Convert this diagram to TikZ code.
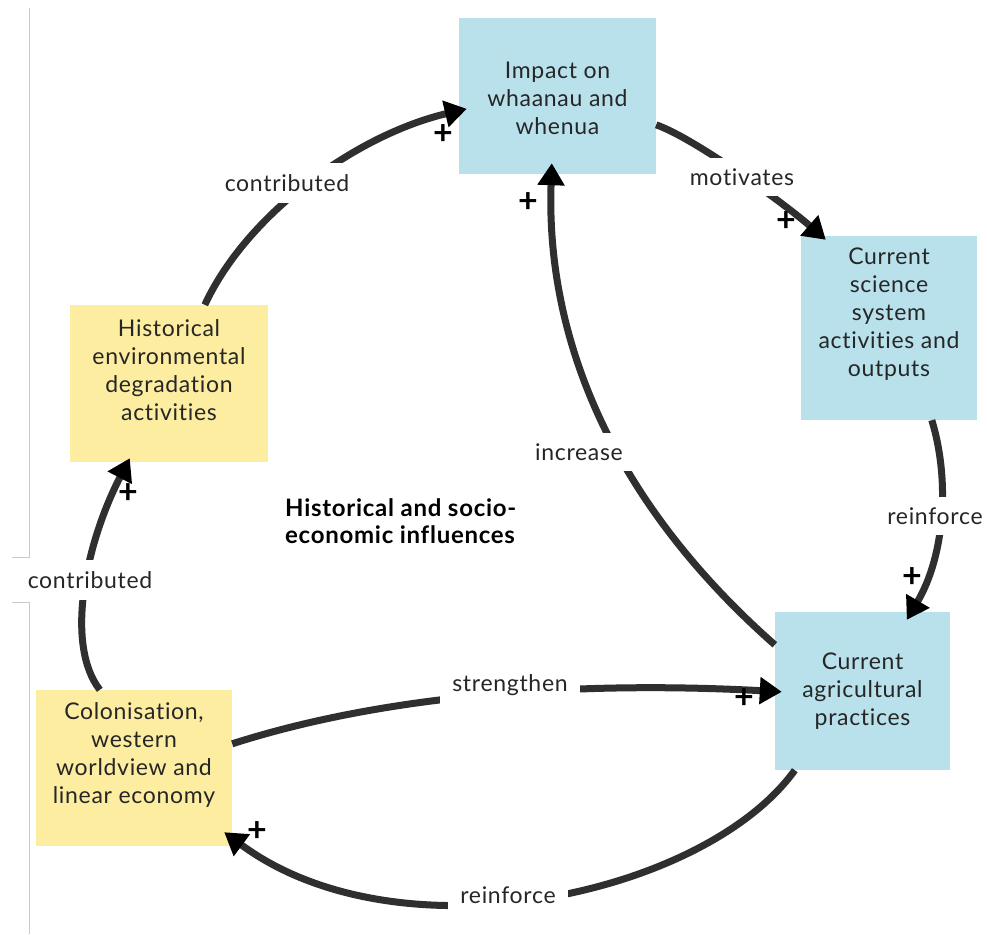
\documentclass[tikz,border=0pt]{standalone}
\usepackage{fontspec}
\setmainfont{Lato}[LetterSpace=3, Ligatures=NoCommon]
\usetikzlibrary{arrows.meta}
\definecolor{boxblue}{HTML}{B9E1EC}
\definecolor{boxyellow}{HTML}{FDEDA1}
\definecolor{linkgray}{HTML}{2F2F2F}
\definecolor{txtgray}{HTML}{262626}
\definecolor{framegray}{HTML}{C9C9C9}
\begin{document}
\begin{tikzpicture}[x=1pt,y=-1pt,
  box/.style={rectangle, inner sep=0pt, draw=none},
  bluebox/.style={box, fill=boxblue},
  yellowbox/.style={box, fill=boxyellow},
  boxtext/.style={align=center, font=\fontsize{23}{28}\selectfont, text=txtgray, inner sep=0pt},
  link/.style={draw=linkgray, line width=7pt, -{Triangle[length=22pt,width=26pt,color=black]}},
  linklabel/.style={fill=white, inner xsep=12pt, inner ysep=11pt, font=\fontsize{23}{28}\selectfont, text=txtgray},
  plus/.style={font=\fontsize{34}{34}\selectfont\bfseries, text=black, inner sep=0pt},
  frame/.style={draw=framegray, line width=1pt},
  title/.style={align=left, anchor=west, font=\fontsize{24}{27}\selectfont\bfseries, text=black, inner sep=0pt},
]
\useasboundingbox[fill=white] (0,0) rectangle (987,934);

% thin frame rules along the left margin
\draw[frame] (29,8) -- (29,557) -- (12,557);
\draw[frame] (12,602) -- (29,602) -- (29,934);

% boxes
\node[bluebox, minimum width=197pt, minimum height=156pt] (impact) at (557.5,96) {};
\node[bluebox, minimum width=176pt, minimum height=184pt] (sci) at (889,328) {};
\node[bluebox, minimum width=175pt, minimum height=158pt] (agri) at (862.5,691) {};
\node[yellowbox, minimum width=198pt, minimum height=157pt] (hist) at (169,383.5) {};
\node[yellowbox, minimum width=196pt, minimum height=156pt] (colon) at (134,768) {};

% box texts
\node[boxtext] (impacttext) at (557.5,98) {Impact on\\whaanau and\\whenua};
\node[boxtext] (scitext) at (889,314.5) {Current\\science\\system\\activities and\\outputs};
\node[boxtext] (agritext) at (862.5,691) {Current\\agricultural\\practices};
\node[boxtext] (histtext) at (169,370) {Historical\\environmental\\degradation\\activities};
\node[boxtext] (colontext) at (134,755) {Colonisation,\\western\\worldview and\\linear economy};

% connectors
\draw[link] ([shift={(135,0)}]hist.north west) .. controls (247,214) and (356,135) .. ([shift={(8,91)}]impact.north west);
\draw[link] ([shift={(0,107)}]impact.north east) .. controls (696,139) and (786,205) .. ([shift={(25,4)}]sci.north west);
\draw[link] ([shift={(131,0)}]sci.south west) .. controls (950,480) and (945,555) .. ([shift={(132,8)}]agri.north west);
\draw[link] ([shift={(0,33)}]agri.north west) .. controls (605,495) and (546,330) .. ([shift={(93,-11)}]impact.south west);
\draw[link] ([shift={(0,54)}]colon.north east) .. controls (400,690) and (600,682) .. ([shift={(7,80)}]agri.north west);
\draw[link] ([shift={(20,0)}]agri.south west) .. controls (705,895) and (400,962) .. ([shift={(-8,-14)}]colon.south east);
\draw[link] ([shift={(64,0)}]colon.north west) .. controls (65,645) and (85,545) .. ([shift={(60,-4)}]hist.south west);

% connector labels
\node[linklabel] (lblhistimpact) at (287,183) {contributed};
\node[linklabel] (lblimpactsci) at (742,177) {motivates};
\node[linklabel] (lblsciagri) at (935,516) {reinforce};
\node[linklabel] (lblagriimpact) at (579,452) {increase};
\node[linklabel] (lblcolonagri) at (510,685) {strengthen};
\node[linklabel] (lblagricolon) at (508,895) {reinforce};
\node[linklabel] (lblcolonhist) at (90,580) {contributed};

% polarity signs
\node[plus] (p1) at (443,135) {+};
\node[plus] (p2) at (786,222) {+};
\node[plus] (p3) at (912,578) {+};
\node[plus] (p4) at (528,203) {+};
\node[plus] (p5) at (744,699) {+};
\node[plus] (p6) at (257,832) {+};
\node[plus] (p7) at (128,494) {+};

% heading
\node[title] (heading) at (285,521) {Historical and socio-\\economic influences};
\end{tikzpicture}
\end{document}
